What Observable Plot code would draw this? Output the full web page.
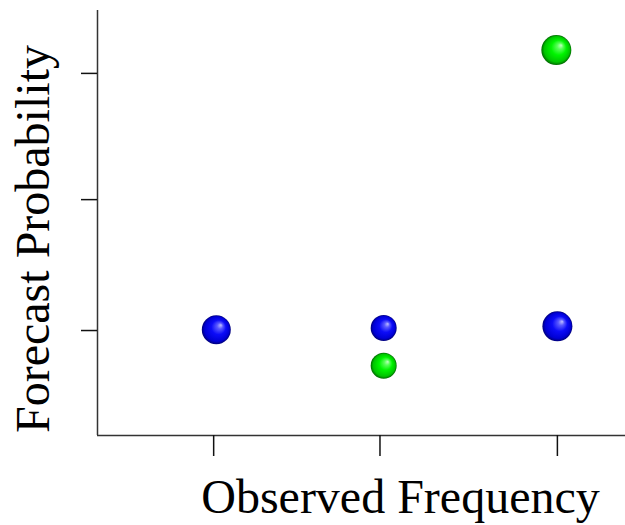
<!DOCTYPE html>
<html><head><meta charset="utf-8">
<script src="https://cdn.jsdelivr.net/npm/d3@7"></script>
<script src="https://cdn.jsdelivr.net/npm/@observablehq/plot@0.6"></script>
<style>body{margin:0;background:#fff}</style>
</head><body><div id="chart"></div>
<script>
const observed = [0.225, 0.542, 0.542, 0.871, 0.869];
const forecast = [0.249, 0.253, 0.164, 0.257, 0.907];
const group = ["series1", "series1", "series2", "series1", "series2"];
const depth = [0.75, 0, 0, 1, 1];
const xTicks = [0.22, 0.535, 0.871];
const yTicks = [0.247, 0.555, 0.852];
const xTitle = "Observed Frequency";
const yTitle = "Forecast Probability";

const data = observed.map((x, i) => ({x, y: forecast[i], g: group[i], d: depth[i]}));
const font = "'Liberation Serif', 'Times New Roman', serif";

const chart = Plot.plot({
  width: 625, height: 525,
  marginLeft: 97, marginRight: 0, marginTop: 10, marginBottom: 90,
  style: {background: "#fff"},
  x: {domain: [0, 1], axis: null},
  y: {domain: [0, 1], axis: null},
  r: {type: "linear", domain: [0, 1], range: [13, 15]},
  color: {type: "ordinal", domain: ["series1", "series2"], range: ["url(#ballBlue)", "url(#ballGreen)"]},
  marks: [
    Plot.ruleX([0], {stroke: "#333", strokeWidth: 1.5}),
    Plot.ruleY([0], {stroke: "#333", strokeWidth: 1.5}),
    Plot.axisX({ticks: xTicks, tickSize: 21, tickFormat: () => "", label: null, stroke: "#111", strokeWidth: 1.5}),
    Plot.axisY({ticks: yTicks, tickSize: 16, tickFormat: () => "", label: null, stroke: "#111", strokeWidth: 1.5}),
    Plot.dot(data, {x: "x", y: "y", r: "d", fill: "g", stroke: null}),
    Plot.text([xTitle], {frameAnchor: "bottom", text: d => d, textAnchor: "middle", lineAnchor: "middle", dx: 39, dy: 62.6, fontSize: 48, fontFamily: font, fill: "#000"}),
    Plot.text([yTitle], {frameAnchor: "left", text: d => d, rotate: -90, textAnchor: "middle", lineAnchor: "middle", dx: -63.4, dy: 16, fontSize: 48, fontFamily: font, fill: "#000"})
  ]
});

const defs = d3.select(chart).insert("defs", ":first-child");
function ball(id, stops) {
  const g = defs.append("radialGradient").attr("id", id)
    .attr("cx", "0.5").attr("cy", "0.5").attr("r", "0.5")
    .attr("fx", "0.66").attr("fy", "0.34");
  stops.forEach(([o, c]) => g.append("stop").attr("offset", o).attr("stop-color", c));
}
ball("ballBlue", [[0, "#c0c0ff"], [0.2, "#5a5aff"], [0.5, "#0c0cf8"], [0.85, "#0000d4"], [1, "#00007a"]]);
ball("ballGreen", [[0, "#c0ffc0"], [0.2, "#58ff58"], [0.5, "#00f400"], [0.85, "#00c400"], [1, "#006800"]]);

document.getElementById("chart").appendChild(chart);
</script>
</body></html>
